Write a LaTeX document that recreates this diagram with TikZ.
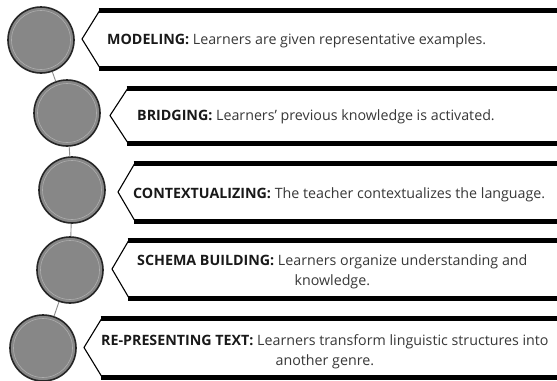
\documentclass[tikz,border=0pt]{standalone}
\usepackage{fontspec}
\setmainfont{Open Sans}
\begin{document}
\begin{tikzpicture}[x=1bp,y=-1bp,
  disc/.style={circle,draw=black!85,line width=1.6bp,fill=black!47,minimum size=66bp,inner sep=0pt},
  conn/.style={draw=black!45,line width=0.9bp},
  banner/.style={fill=white,draw=black,line width=1.1bp,line join=miter},
  band/.style={draw=black,line width=5bp},
  label/.style={font=\fontsize{14.3}{20}\selectfont,text=black!78,inner sep=0pt,align=center},
]
\useasboundingbox (0,0) rectangle (557,380);
\fill[white] (0,0) rectangle (557,380);

% banners
\foreach \t/\b/\p/\c in {10/68/82/100, 88/143/110/128, 163/221/118/135, 240/298/112/129, 318/377/84/102}{
  \path[banner] (560,\t) -- (\c,\t) -- (\p,{(\t+\b)/2}) -- (\c,\b) -- (560,\b);
  \draw[band] (\c-1.5,\t) -- (560,\t);
  \draw[band] (\c-1.5,\b) -- (560,\b);
}

% circles
\node[disc] (c1) at (41,40) {};
\node[disc] (c2) at (67,113) {};
\node[disc] (c3) at (72,190) {};
\node[disc] (c4) at (70,270) {};
\node[disc] (c5) at (43,348) {};
\foreach \n in {c1,c2,c3,c4,c5}{
  \draw[black!32,line width=0.6bp] (\n.center) circle (29.5bp);
}
\draw[conn] (c1) -- (c2);
\draw[conn] (c2) -- (c3);
\draw[conn] (c3) -- (c4);
\draw[conn] (c4) -- (c5);

% texts
\node[label,anchor=west] (t1) at (107,41) {\textbf{\color{black!90}MODELING:} Learners are given representative examples.};
\node[label,anchor=west] (t2) at (137,117) {\textbf{\color{black!90}BRIDGING:} Learners' previous knowledge is activated.};
\node[label,anchor=west] (t3) at (133,195) {\textbf{\color{black!90}CONTEXTUALIZING:} The teacher contextualizes the language.};
\node[label,anchor=west] (t4) at (137,272) {\textbf{\color{black!90}SCHEMA BUILDING:} Learners organize understanding and\\knowledge.};
\node[label,anchor=west] (t5) at (101,352) {\textbf{\color{black!90}RE-PRESENTING TEXT:} Learners transform linguistic structures into\\another genre.};
\end{tikzpicture}
\end{document}
